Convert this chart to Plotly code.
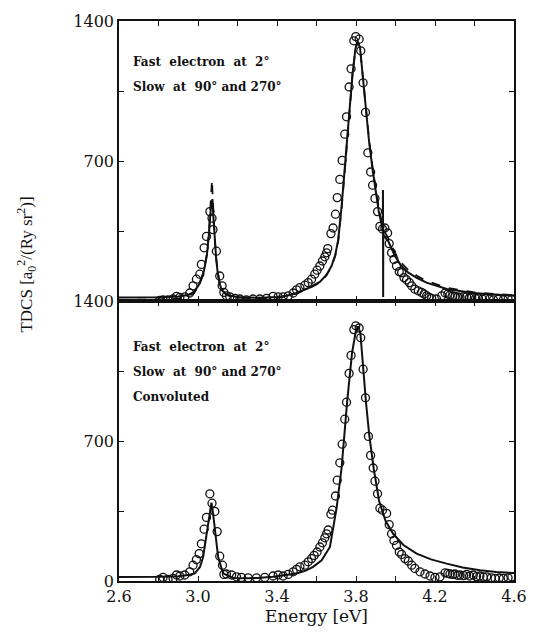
import plotly.graph_objects as go

# ---------------- data: top panel (unconvoluted) ----------------
top_exp_e = [2.806, 2.823, 2.848, 2.874, 2.891, 2.908, 2.933, 2.958, 2.975, 2.992, 3.009, 3.017,
             3.031, 3.043, 3.060, 3.071, 3.076, 3.093, 3.110, 3.122, 3.131, 3.144, 3.161, 3.187,
             3.212, 3.245, 3.279, 3.313, 3.347, 3.380, 3.406, 3.431, 3.457, 3.482, 3.499, 3.516,
             3.541, 3.558, 3.575, 3.591, 3.603, 3.617, 3.630, 3.642, 3.651, 3.657, 3.673, 3.684,
             3.696, 3.705, 3.718, 3.730, 3.743, 3.752, 3.765, 3.775, 3.789, 3.799, 3.816, 3.824,
             3.836, 3.848, 3.860, 3.874, 3.884, 3.896, 3.909, 3.921, 3.934, 3.946, 3.960, 3.968,
             3.980, 3.992, 4.005, 4.019, 4.031, 4.043, 4.056, 4.070, 4.082, 4.098, 4.115, 4.132,
             4.145, 4.158, 4.170, 4.183, 4.208, 4.234, 4.251, 4.265, 4.276, 4.290, 4.301, 4.315,
             4.327, 4.345, 4.360, 4.375, 4.386, 4.405, 4.420, 4.440, 4.453, 4.475, 4.496, 4.520,
             4.546, 4.570, 4.589]
top_exp_v = [3, 6, 5, 10, 23, 18, 21, 40, 76, 109, 134, 183,
             266, 323, 447, 414, 357, 249, 125, 76, 43, 26, 21, 13,
             10, 6, 10, 10, 13, 23, 21, 21, 26, 40, 56, 67,
             79, 92, 109, 134, 154, 175, 200, 221, 241, 262, 337, 365,
             434, 517, 608, 703, 834, 921, 1070, 1161, 1301, 1322, 1309, 1251,
             1091, 943, 741, 645, 579, 513, 447, 373, 360, 365, 340, 287,
             241, 208, 175, 147, 142, 117, 106, 92, 76, 59, 51, 43,
             35, 26, 18, 13, 10, 26, 40, 35, 30, 25, 23, 20,
             18, 22, 21, 16, 18, 12, 15, 10, 13, 9, 6, 8,
             6, 9, 10]

top_solid_e = [2.60, 2.70, 2.80, 2.90, 2.95, 2.98, 3.01, 3.03, 3.045, 3.055, 3.063, 3.068,
               3.0705, 3.073, 3.078, 3.085, 3.092, 3.100, 3.108, 3.120, 3.145, 3.200, 3.300,
               3.347, 3.400, 3.450, 3.499, 3.560, 3.617, 3.650, 3.676, 3.695, 3.710, 3.727,
               3.747, 3.768, 3.782, 3.797, 3.808, 3.820, 3.833, 3.850, 3.867, 3.885, 3.901,
               3.915, 3.929, 3.936, 3.9365, 3.9375, 3.938, 3.945, 3.963, 3.997, 4.030, 4.065,
               4.110, 4.157, 4.260, 4.393, 4.500, 4.600]
top_solid_v = [18, 18, 19, 22, 30, 45, 90, 150, 230, 330, 430, 505,
               465, 510, 420, 300, 210, 140, 92, 55, 30, 20, 16,
               18, 20, 26, 40, 65, 95, 130, 175, 230, 307, 472,
               703, 967, 1132, 1260, 1298, 1270, 1140, 940, 790, 650, 540,
               450, 385, 360, 555, 20, 330, 320, 300, 225, 175, 142,
               115, 92, 60, 40, 32, 26]

top_dash_e = [2.60, 2.70, 2.80, 2.90, 2.95, 2.98, 3.01, 3.03, 3.045, 3.055, 3.063, 3.0685,
              3.071, 3.0735, 3.078, 3.085, 3.092, 3.100, 3.108, 3.120, 3.145, 3.200, 3.300,
              3.400, 3.450, 3.499, 3.560, 3.617, 3.650, 3.676, 3.695, 3.710, 3.727, 3.747,
              3.768, 3.782, 3.797, 3.808, 3.820, 3.833, 3.850, 3.867, 3.885, 3.901, 3.915,
              3.929, 3.945, 3.963, 3.997, 4.030, 4.065, 4.110, 4.157, 4.260, 4.393, 4.500,
              4.600]
top_dash_v = [5, 6, 8, 12, 22, 40, 88, 150, 235, 340, 450, 560,
              607, 540, 430, 310, 215, 145, 95, 58, 30, 18, 12,
              16, 24, 38, 62, 92, 128, 172, 226, 300, 462, 695,
              960, 1128, 1258, 1296, 1268, 1145, 950, 800, 660, 555, 465,
              400, 345, 315, 240, 190, 155, 125, 100, 66, 44, 35,
              29]

# ---------------- data: bottom panel (convoluted) ----------------
bot_exp_e = [2.806, 2.823, 2.848, 2.874, 2.891, 2.908, 2.933, 2.958, 2.975, 2.992, 3.006, 3.017,
             3.031, 3.043, 3.060, 3.071, 3.085, 3.097, 3.110, 3.124, 3.131, 3.144, 3.170, 3.195,
             3.220, 3.254, 3.296, 3.338, 3.380, 3.406, 3.431, 3.457, 3.482, 3.499, 3.516, 3.541,
             3.558, 3.575, 3.588, 3.603, 3.617, 3.630, 3.642, 3.651, 3.659, 3.673, 3.681, 3.696,
             3.705, 3.718, 3.730, 3.743, 3.752, 3.765, 3.775, 3.789, 3.799, 3.816, 3.824, 3.836,
             3.848, 3.863, 3.874, 3.887, 3.896, 3.909, 3.921, 3.934, 3.955, 3.968, 3.980, 3.992,
             4.005, 4.019, 4.031, 4.048, 4.065, 4.082, 4.098, 4.124, 4.149, 4.175, 4.200, 4.225,
             4.251, 4.265, 4.276, 4.290, 4.301, 4.315, 4.327, 4.345, 4.360, 4.375, 4.394, 4.410,
             4.427, 4.445, 4.462, 4.485, 4.504, 4.525, 4.546, 4.570, 4.589]
bot_exp_v = [8, 18, 8, 13, 30, 25, 30, 46, 79, 107, 137, 186,
             259, 318, 436, 389, 348, 247, 124, 79, 33, 35, 30, 21,
             18, 16, 16, 18, 25, 30, 25, 33, 46, 58, 71, 79,
             96, 112, 128, 145, 170, 191, 216, 236, 255, 334, 354, 425,
             504, 591, 684, 809, 894, 1038, 1128, 1257, 1276, 1265, 1216, 1059,
             916, 723, 628, 565, 499, 436, 364, 354, 338, 282, 236, 203,
             178, 145, 133, 112, 100, 79, 63, 46, 35, 25, 18, 21,
             41, 38, 35, 33, 35, 28, 30, 27, 33, 25, 30, 22,
             25, 20, 21, 16, 13, 15, 13, 16, 21]

bot_line_e = [2.60, 2.70, 2.80, 2.90, 2.95, 2.984, 3.010, 3.026, 3.046, 3.060, 3.068, 3.076,
              3.085, 3.102, 3.127, 3.178, 3.250, 3.300, 3.381, 3.440, 3.499, 3.545, 3.583,
              3.626, 3.668, 3.702, 3.727, 3.755, 3.780, 3.800, 3.811, 3.822, 3.836, 3.850,
              3.867, 3.890, 3.917, 3.950, 3.988, 4.040, 4.107, 4.180, 4.259, 4.340, 4.428,
              4.510, 4.600]
bot_line_v = [20, 20, 21, 24, 30, 38, 70, 120, 252, 350, 392, 340,
              252, 120, 38, 15, 14, 15, 21, 28, 38, 52, 71,
              104, 170, 367, 565, 894, 1140, 1255, 1273, 1240, 1059, 900,
              730, 560, 400, 300, 236, 180, 137, 108, 87, 68, 54,
              45, 40]

panel1_text = ["Fast  electron  at  2°", "Slow  at  90° and 270°"]
panel2_text = ["Fast  electron  at  2°", "Slow  at  90° and 270°", "Convoluted"]

x_ticks = [2.6, 3.0, 3.4, 3.8, 4.2, 4.6]
x_minor = [2.8, 3.2, 3.6, 4.0, 4.4]

FONT = "DejaVu Serif"
BLACK = "#111111"

fig = go.Figure()

marker = dict(symbol="circle-open", size=8, color=BLACK, line=dict(width=1.3, color=BLACK))

# top panel
fig.add_trace(go.Scatter(x=top_dash_e, y=top_dash_v, mode="lines", xaxis="x2", yaxis="y2",
                         line=dict(color=BLACK, width=1.8, dash="dash"), showlegend=False))
fig.add_trace(go.Scatter(x=top_solid_e, y=top_solid_v, mode="lines", xaxis="x2", yaxis="y2",
                         line=dict(color=BLACK, width=2), showlegend=False))
fig.add_trace(go.Scatter(x=top_exp_e, y=top_exp_v, mode="markers", xaxis="x2", yaxis="y2",
                         marker=marker, showlegend=False))
# bottom panel
fig.add_trace(go.Scatter(x=bot_line_e, y=bot_line_v, mode="lines", xaxis="x", yaxis="y",
                         line=dict(color=BLACK, width=2), showlegend=False))
fig.add_trace(go.Scatter(x=bot_exp_e, y=bot_exp_v, mode="markers", xaxis="x", yaxis="y",
                         marker=marker, showlegend=False))

axis_common = dict(showline=True, linecolor=BLACK, linewidth=1.5, mirror="ticks",
                   ticks="inside", ticklen=5, tickwidth=1.2, tickcolor=BLACK,
                   showgrid=False, zeroline=False,
                   tickfont=dict(family=FONT, size=16, color=BLACK))
minor_common = dict(ticks="inside", ticklen=5, tickcolor=BLACK, tickwidth=1.2)

fig.update_layout(
    width=541, height=641,
    margin=dict(l=119, r=27, t=13, b=60),
    plot_bgcolor="white", paper_bgcolor="white",
    xaxis=dict(domain=[0, 1], range=[2.6, 4.6], anchor="y",
               tickvals=x_ticks, ticktext=[f"{v:.1f}" for v in x_ticks],
               minor=dict(tickvals=x_minor, **minor_common),
               title=dict(text="Energy [eV]", font=dict(family=FONT, size=17, color=BLACK), standoff=4),
               **axis_common),
    yaxis=dict(domain=[0, 0.5], range=[0, 1400], anchor="x",
               tickvals=[0, 700, 1400], ticktext=["0", "700", "1400"],
               minor=dict(tickvals=[350, 1050], **minor_common),
               **axis_common),
    xaxis2=dict(domain=[0, 1], range=[2.6, 4.6], anchor="y2", showticklabels=False,
                tickvals=x_ticks,
                minor=dict(tickvals=x_minor, **minor_common),
                **axis_common),
    yaxis2=dict(domain=[0.5, 1], range=[0, 1400], anchor="x2",
                tickvals=[0, 700, 1400], ticktext=["", "700", "1400"],
                minor=dict(tickvals=[350, 1050], **minor_common),
                **axis_common),
)

annots = []
for i, t in enumerate(panel1_text):
    annots.append(dict(text=t, xref="x2", yref="y2", x=2.66, y=1195 - i * 125, xanchor="left",
                       yanchor="middle", showarrow=False,
                       font=dict(family=FONT, size=12, color=BLACK, weight="bold")))
for i, t in enumerate(panel2_text):
    annots.append(dict(text=t, xref="x", yref="y", x=2.66, y=1170 - i * 125, xanchor="left",
                       yanchor="middle", showarrow=False,
                       font=dict(family=FONT, size=12, color=BLACK, weight="bold")))
annots.append(dict(text="TDCS [a<sub>0</sub><sup>2</sup>/(Ry sr<sup>2</sup>)]",
                   xref="paper", yref="paper", x=-0.233, y=0.565, xanchor="center", yanchor="middle",
                   textangle=-90, showarrow=False,
                   font=dict(family="Liberation Serif", size=17, color=BLACK)))
fig.update_layout(annotations=annots)

fig.write_html("out.html")
